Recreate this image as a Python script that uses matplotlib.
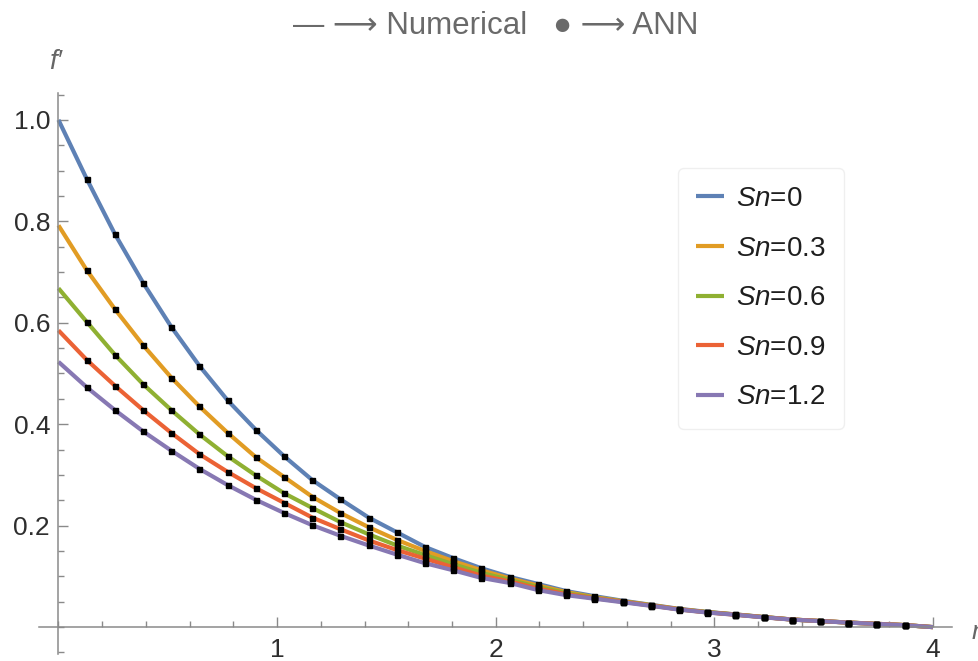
import matplotlib
matplotlib.use('Agg')
import matplotlib.pyplot as plt
from matplotlib.ticker import MultipleLocator, FixedLocator

plt.rcParams['font.family'] = ['Liberation Sans', 'DejaVu Sans']
plt.rcParams['mathtext.fontset'] = 'custom'
plt.rcParams['mathtext.it'] = 'Liberation Sans:italic'
plt.rcParams['mathtext.rm'] = 'Liberation Sans'

# eta grid (ANN points sit on the inner values)
eta = [0.0, 0.129, 0.258, 0.387, 0.516, 0.645, 0.774, 0.903, 1.032, 1.161,
       1.290, 1.419, 1.548, 1.677, 1.806, 1.935, 2.065, 2.194, 2.323, 2.452,
       2.581, 2.710, 2.839, 2.968, 3.097, 3.226, 3.355, 3.484, 3.613, 3.742,
       3.871, 4.0]

# f'(eta)
sn_0 = [1.000, 0.884, 0.775, 0.679, 0.592, 0.515, 0.447, 0.389, 0.337, 0.290,
        0.252, 0.216, 0.187, 0.158, 0.136, 0.116, 0.099, 0.085, 0.071, 0.061,
        0.052, 0.044, 0.036, 0.030, 0.025, 0.020, 0.015, 0.012, 0.009, 0.0065,
        0.004, 0.0]
sn_03 = [0.792, 0.704, 0.627, 0.556, 0.492, 0.435, 0.383, 0.335, 0.296, 0.257,
         0.225, 0.197, 0.172, 0.150, 0.130, 0.112, 0.096, 0.082, 0.069, 0.059,
         0.051, 0.0435, 0.0355, 0.0295, 0.025, 0.0198, 0.015, 0.012, 0.009, 0.0065,
         0.004, 0.0]
sn_06 = [0.668, 0.602, 0.537, 0.479, 0.428, 0.380, 0.337, 0.299, 0.264, 0.235,
         0.207, 0.183, 0.161, 0.142, 0.124, 0.107, 0.093, 0.079, 0.067, 0.058,
         0.0505, 0.043, 0.035, 0.0295, 0.0248, 0.0197, 0.015, 0.012, 0.009, 0.0065,
         0.004, 0.0]
sn_09 = [0.585, 0.527, 0.476, 0.428, 0.383, 0.341, 0.306, 0.274, 0.245, 0.216,
         0.193, 0.171, 0.152, 0.135, 0.118, 0.1015, 0.090, 0.076, 0.065, 0.057,
         0.050, 0.0425, 0.035, 0.029, 0.0245, 0.0195, 0.015, 0.012, 0.009, 0.0065,
         0.004, 0.0]
sn_12 = [0.523, 0.473, 0.428, 0.386, 0.348, 0.312, 0.280, 0.251, 0.225, 0.201,
         0.180, 0.161, 0.143, 0.126, 0.112, 0.097, 0.087, 0.073, 0.063, 0.056,
         0.049, 0.042, 0.0345, 0.0288, 0.0243, 0.0193, 0.0148, 0.0118, 0.0088, 0.0063,
         0.0038, 0.0]

series = [sn_0, sn_03, sn_06, sn_09, sn_12]
labels = ['0', '0.3', '0.6', '0.9', '1.2']
colors = ['#5E81B5', '#E19C24', '#8FB032', '#EB6235', '#8778B3']

fig = plt.figure(figsize=(9.79, 6.61), dpi=100)
ax = fig.add_axes([39 / 979, 1 - 654 / 661, (951.7 - 39) / 979, (654 - 93) / 661])

for vals, lab, c in zip(series, labels, colors):
    ax.plot(eta, vals, color=c, lw=3.0, label=r'$\mathit{Sn}$=' + lab, zorder=2,
            solid_capstyle='butt')
for vals in series:
    ax.plot(eta[1:-1], vals[1:-1], ls='none', marker='s', ms=3.6, color='black',
            zorder=3)

ax.set_xlim(-0.089, 4.086)
ax.set_ylim(-0.053, 1.053)

axis_gray = '#8a8a8a'
for side in ['top', 'right']:
    ax.spines[side].set_visible(False)
ax.spines['left'].set_position(('data', 0))
ax.spines['bottom'].set_position(('data', 0))
for side in ['left', 'bottom']:
    ax.spines[side].set_color(axis_gray)
    ax.spines[side].set_linewidth(1.1)

ax.xaxis.set_major_locator(FixedLocator([1, 2, 3, 4]))
ax.xaxis.set_minor_locator(MultipleLocator(0.2))
ax.yaxis.set_major_locator(FixedLocator([0.2, 0.4, 0.6, 0.8, 1.0]))
ax.yaxis.set_minor_locator(MultipleLocator(0.05))
ax.set_xticklabels(['1', '2', '3', '4'])
ax.set_yticklabels(['0.2', '0.4', '0.6', '0.8', '1.0'])
ax.tick_params(which='both', direction='in', color=axis_gray, width=1.0,
               labelcolor='#2e2e2e', labelsize=19)
ax.tick_params(which='major', length=7)
ax.tick_params(which='minor', length=4)
ax.tick_params(axis='x', which='major', pad=8)
ax.tick_params(axis='y', which='major', pad=6)

leg = ax.legend(loc='upper left', bbox_to_anchor=(678 / 979, 1 - 168 / 661),
                bbox_transform=fig.transFigure, borderaxespad=0, fontsize=20,
                frameon=True, fancybox=True, handlelength=1.0, handletextpad=0.45,
                labelspacing=0.85, borderpad=0.65)
leg.get_frame().set_edgecolor('#ececec')
leg.get_frame().set_linewidth(1.0)
for t in leg.get_texts():
    t.set_color('#1e1e1e')

fig.text(0.5 * (39 + 951.7) / 979, 1 - 26 / 661,
         '\u2014 \u27f6 Numerical   \u25cf \u27f6 ANN',
         ha='center', va='center', fontsize=22.5, color='#6a6a6a',
         family=['Liberation Sans', 'DejaVu Sans'])
fig.text(49 / 979, 1 - 62 / 661, "f\u2032", fontsize=20, style='italic',
         color='#666666', ha='left', va='center')
fig.text(972 / 979, 1 - 632 / 661, '\u03b7', fontsize=19, style='italic',
         color='#666666', ha='left', va='center')

fig.savefig('out.png', dpi=100)
